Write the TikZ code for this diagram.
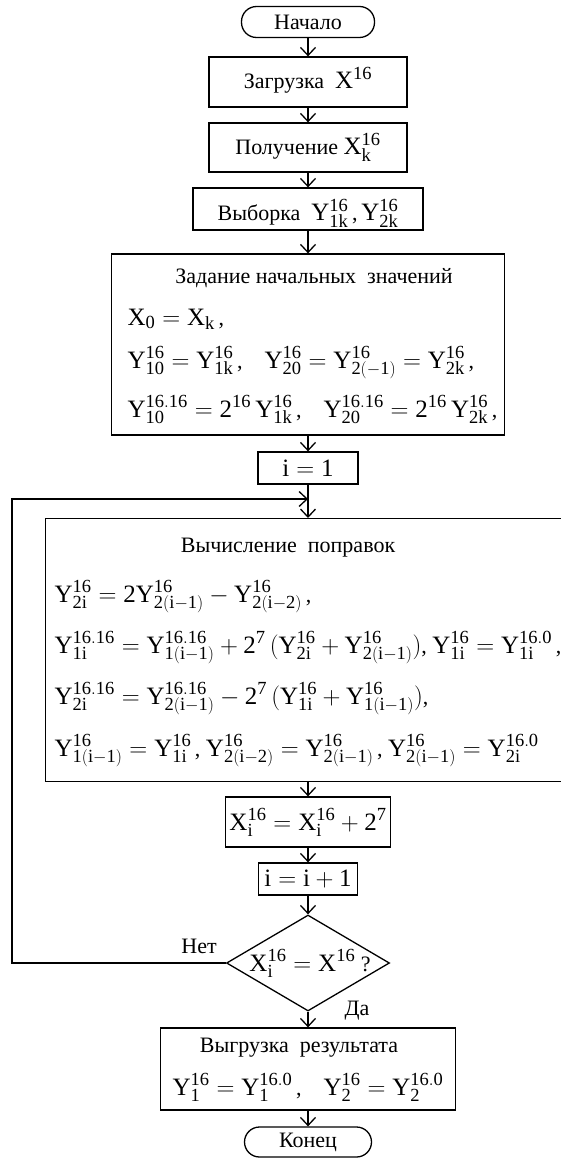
\documentclass[tikz,border=0pt]{standalone}
\usepackage{fontspec}
\setmainfont{Liberation Serif}
\setmathrm{Liberation Serif}
\usetikzlibrary{arrows.meta,shapes.geometric}
\DeclareMathSizes{22}{25}{18.5}{14}
\newcommand{\Yv}[2]{\mathrm{Y^{#1}_{#2}}}
\newcommand{\Xv}[2]{\mathrm{X^{#1}_{#2}}}
\newcommand{\tw}[1]{\mathrm{2^{#1}}}
\begin{document}
\begin{tikzpicture}[x=1pt,y=-1pt,line width=1.3pt,
	font=\fontsize{22}{26}\selectfont,
	blk/.style={draw,inner sep=0pt},
	term/.style={draw,rounded corners=15pt,inner sep=0pt,minimum height=31pt},
	txt/.style={inner sep=0pt},
	arr/.style={-{Straight Barb[length=8pt,width=15pt]}}]
	\clip (0,0) rectangle (561,1158);
	% start and loading
	\node[term,minimum width=133pt] (start) at (308,22) {Начало};
	\node[blk,minimum width=198pt,minimum height=50pt] (load) at (308,82) {};
	\node[txt,anchor=base] (loadt) at (308,89) {Загрузка\ \ $\mathrm{X^{16}}$};
	\node[blk,minimum width=198pt,minimum height=49pt] (recv) at (308,147.5) {};
	\node[txt,anchor=base] (recvt) at (308,155) {Получение $\Xv{16}{k}$};
	\node[blk,minimum width=230pt,minimum height=42pt] (sel) at (308,209) {};
	\node[txt,anchor=base] (selt) at (308,221) {Выборка\ \ $\Yv{16}{1k}$\,,\,$\Yv{16}{2k}$};
	% initial values
	\node[blk,minimum width=393pt,minimum height=181pt] (init) at (308,344.5) {};
	\node[txt,anchor=base] (initt) at (314,283) {Задание начальных\ \ значений};
	\node[txt,anchor=base west] (init1) at (127,325) {$\mathrm{X_0 = X_k}$\,,};
	\node[txt,anchor=base west] (init2) at (127,368) {$\Yv{16}{10} = \Yv{16}{1k}$\,,\quad $\Yv{16}{20} = \Yv{16}{2(-1)} = \Yv{16}{2k}$\,,};
	\node[txt,anchor=base west] (init3) at (127,417) {$\Yv{16.16}{10} = \tw{16}\,\Yv{16}{1k}$\,,\quad $\Yv{16.16}{20} = \tw{16}\,\Yv{16}{2k}$\,,};
	\node[blk,minimum width=100pt,minimum height=32pt] (i1) at (308,468) {};
	\node[txt] (i1t) at (308,468) {$\mathrm{i = 1}$};
	% corrections
	\node[blk,anchor=north west,minimum width=600pt,minimum height=263pt] (calc) at (45,518) {};
	\node[txt,anchor=base] (calct) at (288,552) {Вычисление\ \ поправок};
	\node[txt,anchor=base west] (calc1) at (54,602) {$\Yv{16}{2i} = \mathrm{2}\Yv{16}{2(i-1)} - \Yv{16}{2(i-2)}$\,,};
	\node[txt,anchor=base west] (calc2) at (54,653) {$\Yv{16.16}{1i} = \Yv{16.16}{1(i-1)} + \tw{7}\,(\Yv{16}{2i} + \Yv{16}{2(i-1)})$,\ $\Yv{16}{1i} = \Yv{16.0}{1i}$\,,};
	\node[txt,anchor=base west] (calc3) at (54,704) {$\Yv{16.16}{2i} = \Yv{16.16}{2(i-1)} - \tw{7}\,(\Yv{16}{1i} + \Yv{16}{1(i-1)})$,};
	\node[txt,anchor=base west] (calc4) at (54,756) {$\Yv{16}{1(i-1)} = \Yv{16}{1i}$\,,\ $\Yv{16}{2(i-2)} = \Yv{16}{2(i-1)}$\,,\ $\Yv{16}{2(i-1)} = \Yv{16.0}{2i}$};
	\node[blk,minimum width=165pt,minimum height=50pt] (xinc) at (308,822) {};
	\node[txt,anchor=base] (xinct) at (308,830) {$\Xv{16}{i} = \Xv{16}{i} + \tw{7}$};
	\node[blk,minimum width=99pt,minimum height=32pt] (inc) at (308,879) {};
	\node[txt] (inct) at (308,879) {$\mathrm{i = i + 1}$};
	% test
	\node[draw,diamond,aspect=1.7,inner sep=0pt,minimum width=163pt,minimum height=96pt] (cond) at (308,963) {};
	\node[txt,anchor=base] (condt) at (310,971) {$\Xv{16}{i} = \mathrm{X^{16}}$ ?};
	\node[txt,anchor=base] (no) at (199,953) {Нет};
	\node[txt,anchor=base] (yes) at (357,1015) {Да};
	% unloading and end
	\node[blk,minimum width=295pt,minimum height=82pt] (out) at (308,1069) {};
	\node[txt,anchor=base] (outt) at (299,1052) {Выгрузка\ \ результата};
	\node[txt,anchor=base] (out1) at (308,1095) {$\Yv{16}{1} = \Yv{16.0}{1}$\,,\quad $\Yv{16}{2} = \Yv{16.0}{2}$};
	\node[term,minimum width=127pt,minimum height=30pt] (end) at (308,1142) {Конец};
	% arrows
	\draw[arr] (start) -- (load);
	\draw[arr] (load) -- (recv);
	\draw[arr] (recv) -- (sel);
	\draw[arr] (sel) -- (init);
	\draw[arr] (init) -- (i1);
	\coordinate (jn) at (308,499);
	\coordinate (lp) at (12,499);
	\draw[arr] (i1.south) -- (i1.south |- calc.north);
	\draw[arr] (calc.south -| xinc.north) -- (xinc);
	\draw[arr] (xinc) -- (inc);
	\draw[arr] (inc) -- (cond);
	\draw[arr] (cond) -- (out);
	\draw[arr] (out) -- (end);
	% loop back
	\draw[arr] (cond.west) -| (lp) -- (jn);
\end{tikzpicture}
\end{document}
